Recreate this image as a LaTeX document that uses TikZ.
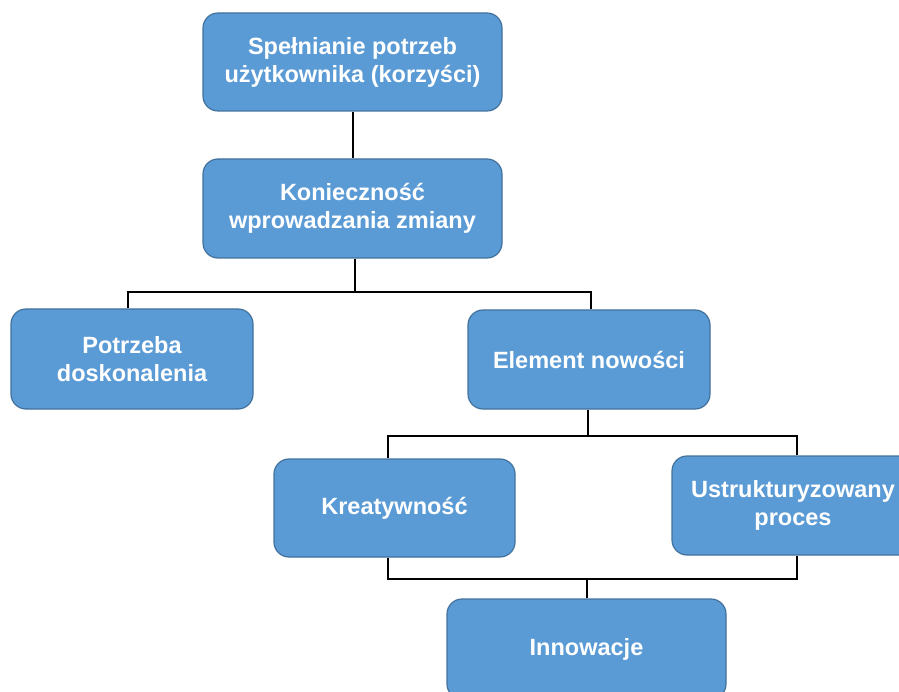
\documentclass[tikz,border=0pt]{standalone}
\usepackage{fontspec}
\setmainfont{Liberation Sans}
\definecolor{boxfill}{HTML}{5B9BD5}
\definecolor{boxedge}{HTML}{41719C}
\begin{document}
\begin{tikzpicture}[x=1pt,y=-1pt,
  box/.style={draw=boxedge, line width=1.2pt, fill=boxfill, rounded corners=15pt,
    text=white, font=\bfseries\fontsize{23.5}{28}\selectfont, align=center, inner sep=0pt},
  conn/.style={line width=2pt, draw=black}]
\useasboundingbox (0,0) rectangle (899,692);
\clip (0,0) rectangle (899,692);
\node[box, minimum width=299pt, minimum height=98pt] (top) at (352.5,62) {Spełnianie potrzeb\\użytkownika (korzyści)};
\node[box, minimum width=299pt, minimum height=99pt] (kon) at (352.5,208.5) {Konieczność\\wprowadzania zmiany};
\node[box, minimum width=242pt, minimum height=100pt] (pot) at (132,359) {Potrzeba\\doskonalenia};
\node[box, minimum width=242pt, minimum height=99pt] (elem) at (589,359.5) {Element nowości};
\node[box, minimum width=241pt, minimum height=98pt] (kre) at (394.5,508) {Kreatywność};
\node[box, minimum width=242pt, minimum height=99pt] (ust) at (793,505.5) {Ustrukturyzowany\\proces};
\node[box, minimum width=279pt, minimum height=100pt] (inn) at (586.5,649) {Innowacje};
\coordinate (j1) at (0,292);
\coordinate (j2) at (0,436);
\coordinate (j3) at (0,579);
\draw[conn] (top.south) -- (kon.north);
\draw[conn] ([xshift=2pt]kon.south) -- ([xshift=2pt]kon.south |- j1);
\draw[conn] ([xshift=-4pt]pot.north) -- ([xshift=-4pt]pot.north |- j1) -- ([xshift=2pt]elem.north |- j1) -- ([xshift=2pt]elem.north);
\draw[conn] ([xshift=-1pt]elem.south) -- ([xshift=-1pt]elem.south |- j2);
\draw[conn] ([xshift=-6.5pt]kre.north) -- ([xshift=-6.5pt]kre.north |- j2) -- ([xshift=4pt]ust.north |- j2) -- ([xshift=4pt]ust.north);
\draw[conn] ([xshift=-6.5pt]kre.south) -- ([xshift=-6.5pt]kre.south |- j3) -- ([xshift=4pt]ust.south |- j3) -- ([xshift=4pt]ust.south);
\draw[conn] (inn.north |- j3) -- (inn.north);
\end{tikzpicture}
\end{document}
